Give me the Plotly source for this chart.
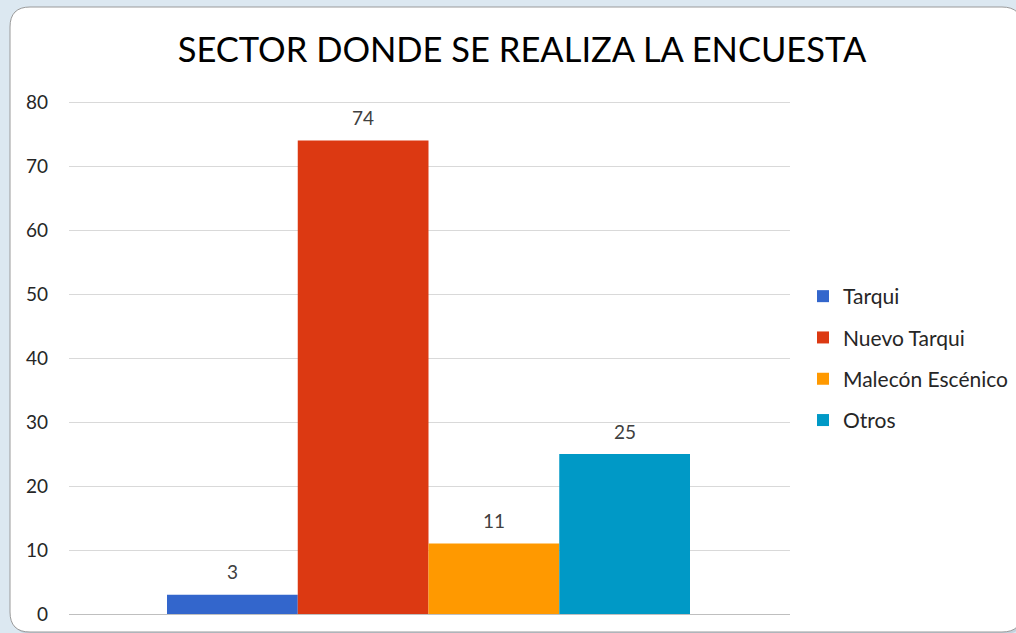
import plotly.graph_objects as go

categories = ["Tarqui", "Nuevo Tarqui", "Malecón Escénico", "Otros"]
values = [3, 74, 11, 25]
colors = ["#3366CC", "#DC3912", "#FF9900", "#0099C6"]
y_ticks = [0, 10, 20, 30, 40, 50, 60, 70, 80]

W, H = 1016, 633
L, R, T, B = 69, 790, 100, 614
pw, ph = R - L, B - T
YPX = 6.4                      # px per unit in reference
ytop = (B - T) / YPX           # axis top slightly above 80 so the 80 grid line is kept

FONT = "Lato"
TXT = "#262626"

fig = go.Figure()
for c, v, col in zip(categories, values, colors):
    fig.add_trace(go.Bar(x=[c], y=[v], name=c, marker=dict(color=col, line=dict(width=0)),
                         legendgroup=c, width=1.0))
    fig.add_annotation(x=c, y=v, text=str(v), showarrow=False, yshift=23,
                       font=dict(family=FONT, size=19, color="#404040"))

# axis range so bars span px 167..690
ppu = (690 - 167) / 4.0
x0 = -0.5 - (167 - L) / ppu
x1 = 3.5 + (R - 690) / ppu


def px2paper(x, y):
    return (x - L) / pw, (B - y) / ph


def path_panel(px0, py0, px1, py1, r):
    def P(x, y):
        a, b = px2paper(x, y)
        return f"{a:.5f},{b:.5f}"
    return (f"M {P(px0, py0 + r)} Q {P(px0, py0)} {P(px0 + r, py0)} "
            f"L {P(px1 - r, py0)} Q {P(px1, py0)} {P(px1, py0 + r)} "
            f"L {P(px1, py1 - r)} Q {P(px1, py1)} {P(px1 - r, py1)} "
            f"L {P(px0 + r, py1)} Q {P(px0, py1)} {P(px0, py1 - r)} Z")

px0, py0, px1, py1, r = 10, 7, 1022, 632, 20
fig.add_shape(type="path", path=path_panel(px0 + 2, py0 + 2, px1 + 2, py1 + 2, r), xref="paper", yref="paper",
              fillcolor="rgba(120,140,160,0.25)", line=dict(width=0), layer="below")
fig.add_shape(type="path", path=path_panel(px0, py0, px1, py1, r), xref="paper", yref="paper",
              fillcolor="white", line=dict(color="#9a9a9a", width=1), layer="below")

fig.update_layout(
    width=W, height=H,
    margin=dict(l=L, r=W - R, t=T, b=H - B, pad=0, autoexpand=False),
    paper_bgcolor="#dce8f1",
    plot_bgcolor="rgba(0,0,0,0)",
    barmode="overlay",
    showlegend=True,
    title=dict(text="SECTOR DONDE SE REALIZA LA ENCUESTA", x=522 / W, xanchor="center",
               y=1 - 50 / H, yanchor="middle", xref="container", yref="container",
               font=dict(family=FONT, size=34.5, color="#000000")),
    legend=dict(x=803 / W, xref="container", y=1 - 358.5 / H, yref="container",
                xanchor="left", yanchor="middle", bgcolor="rgba(0,0,0,0)",
                font=dict(family=FONT, size=21, color=TXT), tracegroupgap=11,
                traceorder="grouped"),
    xaxis=dict(range=[x0, x1], showticklabels=False, showgrid=False, zeroline=False,
               showline=False, ticks="", fixedrange=True, automargin=False),
    yaxis=dict(range=[0, ytop], tickvals=y_ticks, showgrid=True, gridcolor="#d9d9d9",
               gridwidth=1, zeroline=True, zerolinecolor="#bfbfbf", zerolinewidth=1,
               showline=False, ticks="", ticklabelstandoff=20, automargin=False,
               tickfont=dict(family=FONT, size=19, color=TXT)),
)

fig.write_html("out.html", config={"displayModeBar": False},
               post_script="document.body.style.margin='0px';")
